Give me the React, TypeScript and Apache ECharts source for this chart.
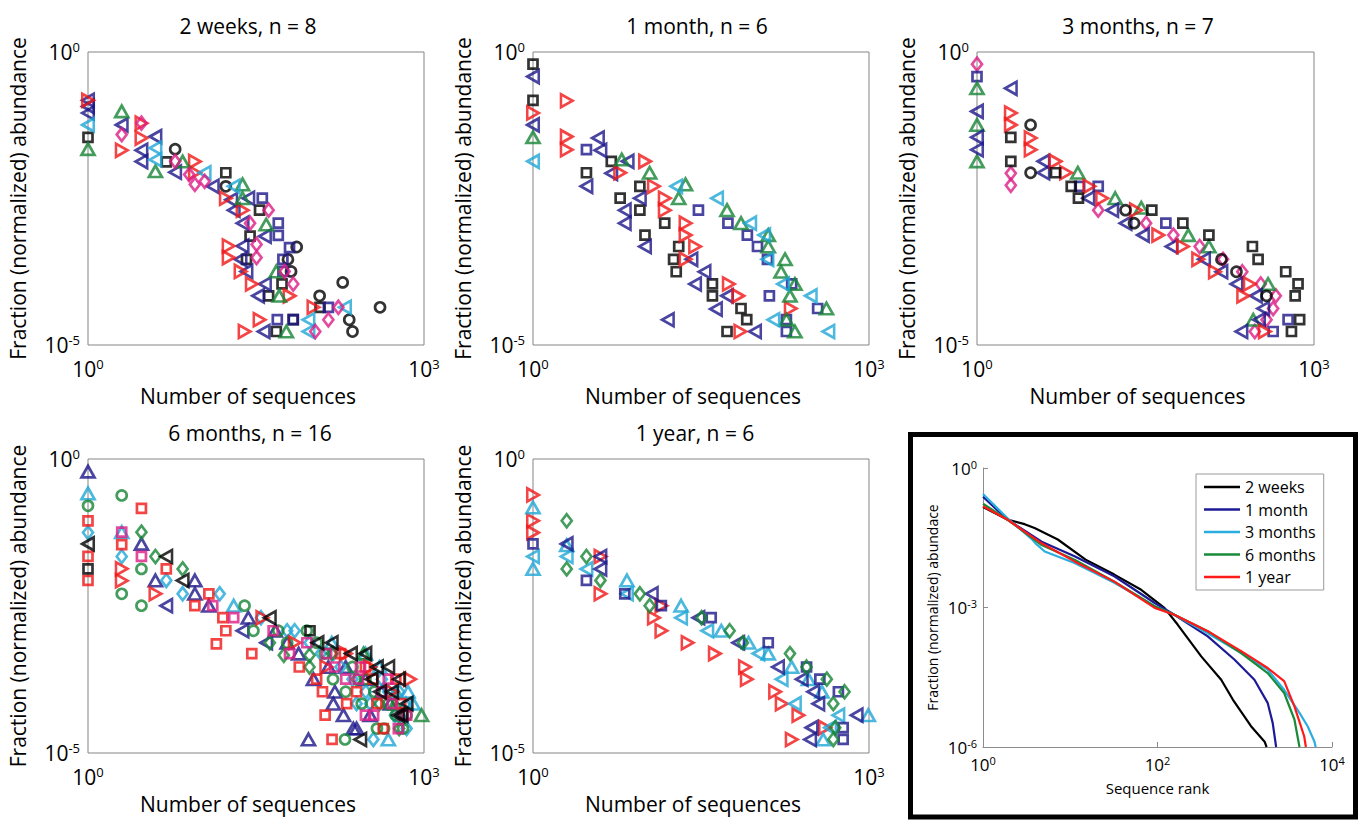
import React, { useEffect, useRef } from 'react';
import * as echarts from 'echarts';

const FONT = "'Open Sans', 'Noto Sans', 'DejaVu Sans', sans-serif";

const COLORS: Record<string, string> = {
  k: '#000000', b: '#1c1688', c: '#1fa6d6', g: '#158434', r: '#f01616', m: '#dc1d86',
};

const PANEL_TITLES = ['2 weeks, n = 8', '1 month, n = 6', '3 months, n = 7', '6 months, n = 16', '1 year, n = 6'];

type Group = { c: string; m: string; pts: number[][] };

const weeks2: Group[] = [
  { c: 'k', m: 's', pts: [[1,0.035],[5,0.0133],[17,0.0087],[34,0.002],[28,7.2e-4],[26,2.9e-4],[54,1.1e-4],[41,6.9e-5],[118,4.4e-5],[68,2.7e-5],[48,1.7e-5]] },
  { c: 'k', m: 'o', pts: [[6,0.022],[17,0.0051],[73,4.7e-4],[61,2.9e-4],[65,1.8e-4],[117,6.9e-5],[188,1.17e-4],[405,4.4e-5],[215,2.7e-5],[230,1.7e-5]] },
  { c: 'b', m: '<', pts: [[1,0.15],[1,0.118],[1,0.091],[2,0.057],[3,0.021],[3,0.0135],[4,0.036],[6,0.0089],[13,0.0051],[19,0.003],[20,0.002],[24,0.0012],[27,0.0032],[38,7.2e-4],[24,4.9e-4],[23,2.9e-4],[26,1.8e-4],[38,1.1e-4],[33,6.9e-5],[37,1.7e-5]] },
  { c: 'b', m: 's', pts: [[36,0.0032],[50,0.0012],[50,7.4e-4],[63,4.6e-4],[55,2.9e-4],[55,1.8e-4],[140,4.4e-5],[49,2.7e-5],[68,2.7e-5]] },
  { c: 'r', m: '>', pts: [[1,0.15],[2,0.021],[3,0.034],[3,0.061],[9,0.0135],[9,0.0087],[17,0.0032],[24,0.002],[18,4.9e-4],[18,3.1e-4],[23,1.8e-4],[29,1.1e-4],[63,6.9e-5],[103,4.4e-5],[34,2.7e-5],[25,1.7e-5]] },
  { c: 'g', m: '^', pts: [[1,0.022],[2,0.097],[4,0.0092],[7,0.0135],[24,0.0055],[24,0.0032],[39,0.00114],[48,1.8e-4],[51,6.9e-5],[59,1.7e-5]] },
  { c: 'c', m: '<', pts: [[1,0.057],[4,0.023],[4,0.0145],[11,0.0087],[20,0.0051],[197,4.4e-5],[93,2.7e-5],[93,1.7e-5]] },
  { c: 'm', m: 'd', pts: [[2,0.039],[3,0.061],[6,0.0136],[8,0.0081],[9,0.0055],[11,0.0062],[28,0.0012],[41,0.002],[32,5.2e-4],[32,3.1e-4],[57,1.8e-4],[68,1.1e-4],[172,4.4e-5],[140,2.7e-5],[107,1.7e-5]] },
];

const month1: Group[] = [
  { c: 'k', m: 's', pts: [[1,0.62],[1,0.15],[5,0.0136],[3,0.0087],[6,0.0032],[9,0.0051],[9,0.002],[10,7.5e-4],[15,0.0012],[20,4.8e-4],[18,2.9e-4],[19,1.78e-4],[40,1.1e-4],[40,6.9e-5],[72,4.2e-5],[81,2.7e-5],[54,1.7e-5]] },
  { c: 'b', m: '<', pts: [[1,0.38],[1,0.057],[3,0.0051],[3.8,0.034],[4,0.021],[5,0.0085],[7,0.0136],[6.6,0.002],[6.6,0.0012],[9,0.0032],[10,4.8e-4],[26,2.9e-4],[34,1.78e-4],[28,1.1e-4],[54,6.9e-5],[43,4.1e-5],[16,2.7e-5],[96,1.7e-5]] },
  { c: 'b', m: 's', pts: [[3,0.0215],[30,0.002],[55,0.0012],[82,7.5e-4],[101,4.8e-4],[124,2.9e-4],[204,1.1e-4],[129,6.9e-5],[348,4.2e-5],[183,2.7e-5],[183,1.7e-5]] },
  { c: 'r', m: '>', pts: [[1,0.091],[2,0.147],[2,0.036],[2,0.0215],[6,0.0087],[10,0.0136],[12,0.0051],[15,0.0032],[15,0.002],[23,0.0012],[23,7.5e-4],[28,4.8e-4],[23,2.9e-4],[56,1.1e-4],[68,6.9e-5],[71,1.7e-5],[200,4.2e-5]] },
  { c: 'g', m: '^', pts: [[1,0.035],[6.2,0.0146],[11,0.0087],[20,0.0032],[23,0.0055],[54,0.002],[72,0.0012],[126,7.5e-4],[126,4.8e-4],[178,2.9e-4],[164,1.78e-4],[218,1.1e-4],[197,6.9e-5],[417,4.2e-5],[183,2.7e-5],[218,1.7e-5]] },
  { c: 'c', m: '<', pts: [[1,0.0136],[19,0.0051],[44,0.0032],[87,0.0012],[116,7.5e-4],[124,2.9e-4],[171,1.1e-4],[302,6.9e-5],[140,2.7e-5],[434,1.7e-5]] },
];

const months3: Group[] = [
  { c: 'm', m: 'd', pts: [[1,0.62],[2,0.0085],[2,0.0053],[12,0.002],[32,0.0012],[56,7.5e-4],[96,4.8e-4],[155,2.9e-4],[230,1.78e-4],[336,1.1e-4],[457,6.9e-5],[433,4.2e-5],[378,2.7e-5],[297,1.7e-5]] },
  { c: 'b', m: 's', pts: [[1,0.38],[8.2,0.0051],[12,0.0051],[48,0.0012],[588,2.7e-5],[433,1.7e-5]] },
  { c: 'g', m: '^', pts: [[1,0.24],[1,0.057],[1,0.0136],[7.9,0.0087],[17,0.0032],[29,0.0022],[76,7.5e-4],[116,4.8e-4],[390,1.1e-4],[288,2.7e-5]] },
  { c: 'b', m: '<', pts: [[1,0.097],[1,0.035],[1,0.0215],[2,0.24],[3.9,0.0136],[3.9,0.0087],[9.8,0.0032],[16,0.002],[21,0.0012],[30,7.5e-4],[54,4.8e-4],[105,2.9e-4],[150,1.78e-4],[204,1.1e-4],[304,6.9e-5],[353,4.2e-5],[324,2.7e-5],[226,1.7e-5]] },
  { c: 'r', m: '>', pts: [[2,0.091],[2,0.057],[3,0.034],[3,0.0215],[5,0.0136],[6.2,0.0087],[10,0.0051],[13,0.0032],[26,0.002],[41,7.5e-4],[68,4.8e-4],[93,2.9e-4],[131,1.78e-4],[268,1.1e-4],[234,6.9e-5],[365,1.7e-5]] },
  { c: 'k', m: 's', pts: [[2,0.035],[2,0.0136],[5,0.0087],[6.9,0.0051],[8,0.0032],[36,0.002],[68,0.0012],[116,7.5e-4],[283,4.8e-4],[318,2.9e-4],[560,1.78e-4],[721,1.1e-4],[680,6.9e-5],[745,2.7e-5],[630,1.7e-5]] },
  { c: 'k', m: 'o', pts: [[3,0.057],[3,0.0087],[21,0.002],[25,0.0012],[150,2.9e-4],[204,1.78e-4],[378,6.9e-5]] },
];

const months6: Group[] = [
  { c: 'b', m: '^', pts: [[1,0.61],[3,0.036],[4,0.0086],[9,0.0086],[9,0.0051],[12,0.0032],[27,0.002],[47,0.0012],[76,4.9e-4],[103,1.8e-4],[160,1.1e-4],[155,6.9e-5],[191,4.4e-5],[234,2.6e-5],[93,1.7e-5],[330,4.4e-5],[250,2.6e-5],[200,2.9e-4],[420,1.1e-4],[300,1.8e-4],[60,7.5e-4],[140,2.9e-4],[500,6.9e-5]] },
  { c: 'b', m: '<', pts: [[5,0.0032],[24,0.0012],[39,7.5e-4]] },
  { c: 'c', m: '^', pts: [[1,0.26],[2,0.057],[20,0.0032],[690,6.9e-5],[480,1.7e-5],[560,1.1e-4],[620,4.4e-5],[800,6.9e-5],[300,4.9e-4],[150,7.5e-4],[400,2.9e-4],[720,1.1e-4]] },
  { c: 'c', m: 'd', pts: [[1,0.056],[2,0.022],[5,0.0086],[7,0.0051],[60,0.0012],[95,7.5e-4],[155,4.9e-4],[230,1.8e-4],[302,1.1e-4],[330,6.9e-5],[353,1.7e-5],[420,1.8e-4],[250,6.9e-5],[550,4.4e-5],[600,1.1e-4],[180,2.9e-4],[15,0.0051],[35,0.002],[70,0.0012],[120,4.9e-4],[480,1.1e-4],[700,2.6e-5]] },
  { c: 'g', m: 'o', pts: [[1,0.16],[2,0.24],[2,0.0051],[3,0.0135],[3,0.0032],[30,0.0012],[60,7.5e-4],[90,0.0012],[154,1.8e-4],[200,1.1e-4],[278,6.9e-5],[440,2.6e-5],[197,1.7e-5],[130,4.9e-4],[300,1.8e-4],[360,1.1e-4],[480,6.9e-5],[560,4.4e-5],[380,2.6e-5],[650,2.6e-5],[230,2.9e-4],[25,0.0032],[50,0.0012],[110,7.5e-4],[700,4.4e-5]] },
  { c: 'g', m: 'd', pts: [[3,0.057],[4,0.022],[7,0.0135],[42,7.5e-4],[56,4.6e-4],[95,4.6e-4],[95,2.9e-4],[150,4.9e-4],[250,1.8e-4],[400,6.9e-5],[600,2.6e-5]] },
  { c: 'g', m: '^', pts: [[950,4.4e-5],[288,4.9e-4],[550,6.9e-5]] },
  { c: 'r', m: 's', pts: [[1,0.089],[1,0.022],[1,0.0086],[2,0.035],[3,0.145],[5,0.0135],[9,0.0032],[12,0.0051],[17,0.0012],[16,0.002],[14,7.2e-4],[29,4.9e-4],[77,2.9e-4],[110,1.8e-4],[124,1.1e-4],[131,4.4e-5],[204,6.9e-5],[433,2.6e-5],[151,1.7e-5],[250,1.1e-4],[380,6.9e-5],[300,2.9e-4],[560,1.8e-4],[180,4.9e-4],[350,1.8e-4],[620,6.9e-5]] },
  { c: 'r', m: '>', pts: [[2,0.0136],[2,0.0085],[4,0.0051],[36,0.002],[134,2.9e-4],[330,2.9e-4],[515,1.1e-4],[70,7.5e-4],[200,4.9e-4],[750,1.8e-4]] },
  { c: 'm', m: 's', pts: [[2,0.057],[3,0.022],[63,4.9e-4],[135,4.9e-4],[271,2.9e-4],[355,4.4e-5],[590,2.6e-5],[200,1.8e-4],[420,1.1e-4],[300,4.4e-5],[520,6.9e-5],[480,1.8e-4],[700,4.4e-5],[13,0.0032],[20,0.002],[45,0.0012],[90,7.5e-4],[160,2.9e-4],[260,1.8e-4],[650,4.4e-5]] },
  { c: 'k', m: '<', pts: [[1,0.036],[5,0.022],[7,0.0086],[42,0.002],[112,7.5e-4],[223,4.9e-4],[340,1.8e-4],[405,1.1e-4],[590,4.4e-5],[630,4.4e-5],[270,1.7e-5],[480,2.9e-4],[520,1.1e-4],[700,6.9e-5],[380,2.9e-4],[150,7.5e-4],[300,4.9e-4],[600,1.8e-4]] },
  { c: 'k', m: 's', pts: [[1,0.0135],[96,0.0012]] },
];

const year1: Group[] = [
  { c: 'r', m: '>', pts: [[1,0.245],[1,0.089],[1,0.056],[4,0.022],[4,0.0051],[14,0.0032],[12,0.002],[14,0.0012],[24,7.5e-4],[42,4.9e-4],[78,2.9e-4],[81,1.8e-4],[145,1.1e-4],[166,6.9e-5],[234,4.4e-5],[204,1.7e-5],[405,2.7e-5]] },
  { c: 'c', m: '^', pts: [[1,0.15],[1,0.0135],[2,0.034],[6.9,0.0086],[21,0.0032],[48,0.0012],[84,7.5e-4],[126,4.9e-4],[204,2.9e-4],[288,1.8e-4],[380,1.1e-4],[985,4.4e-5],[390,1.7e-5]] },
  { c: 'c', m: '<', pts: [[1,0.022],[2,0.022],[3,0.0135],[6.9,0.0051],[21,0.002],[36,0.0012],[103,4.9e-4],[166,1.8e-4],[218,6.9e-5],[533,4.4e-5],[450,2.7e-5]] },
  { c: 'b', m: 's', pts: [[1,0.036],[3,0.0086],[6.6,0.0051],[14,0.0032],[39,0.002],[126,7.5e-4],[277,2.9e-4],[364,1.8e-4],[533,1.1e-4],[588,2.7e-5],[588,1.7e-5]] },
  { c: 'b', m: '<', pts: [[2,0.036],[4,0.022],[4,0.0135],[11.5,0.0051],[30,0.002],[68,7.5e-4],[154,2.9e-4],[251,1.8e-4],[318,1.1e-4],[353,6.9e-5],[776,4.4e-5],[307,2.7e-5],[298,1.7e-5]] },
  { c: 'g', m: 'd', pts: [[2,0.089],[2,0.0135],[3,0.022],[4,0.0086],[9,0.0051],[11,0.0032],[32,0.002],[57,0.0012],[75,7.5e-4],[197,4.9e-4],[277,2.9e-4],[420,1.8e-4],[605,1.1e-4],[480,6.9e-5],[500,2.7e-5],[480,1.7e-5]] },
];

const PANELS = [weeks2, month1, months3, months6, year1];

// Inset: rank-abundance curves
const LINE_NAMES = ['2 weeks', '1 month', '3 months', '6 months', '1 year'];
const LINE_COLORS = ['#000000', '#1d1a96', '#2aaee0', '#198a38', '#ff1a1a'];
const rank2w = [[1,0.145],[1.9,0.078],[3,0.062],[3.9,0.051],[7.2,0.029],[15,0.0107],[32,0.0051],[65,0.0024],[120,9.8e-4],[170,4.3e-4],[317,8.9e-5],[537,2.8e-5],[730,1.05e-5],[1180,2.8e-6],[1690,1.3e-6],[1780,1e-6]];
const rank1m = [[1,0.24],[1.9,0.078],[4.7,0.026],[11.2,0.0126],[32,0.0047],[93,0.00125],[156,7e-4],[377,2.4e-4],[760,7.6e-5],[1290,2.8e-5],[1830,8.9e-6],[2090,3.3e-6],[2290,1e-6]];
const rank3m = [[1,0.276],[1.9,0.084],[3.6,0.03],[4,0.024],[5.1,0.016],[11.2,0.0091],[32,0.0034],[93,0.00107],[156,7e-4],[377,2.8e-4],[910,1.05e-4],[1830,4.6e-5],[2830,1.7e-5],[4240,5.4e-6],[5260,2.8e-6],[6300,1.3e-6],[6500,1e-6]];
const rank6m = [[1,0.17],[1.9,0.078],[4.7,0.022],[11.2,0.0107],[32,0.0036],[93,0.00107],[156,7e-4],[377,3.1e-4],[910,1.05e-4],[1830,3.9e-5],[2830,1.45e-5],[3710,3.9e-6],[4240,1e-6]];
const rank1y = [[1,0.15],[1.9,0.078],[4.7,0.024],[11.2,0.0098],[32,0.0036],[93,9.8e-4],[156,7e-4],[377,3.1e-4],[910,1.15e-4],[1830,5e-5],[2830,2.6e-5],[3710,7.5e-6],[4800,1.7e-6],[5020,1e-6]];
const RANK_DATA = [rank2w, rank1m, rank3m, rank6m, rank1y];

const MARKERS: Record<string, { symbol: string; size: number | number[]; rot: number }> = {
  '^': { symbol: 'triangle', size: [13, 11.5], rot: 0 },
  '<': { symbol: 'triangle', size: [13, 11.5], rot: 90 },
  '>': { symbol: 'triangle', size: [13, 11.5], rot: -90 },
  s: { symbol: 'rect', size: 9, rot: 0 },
  o: { symbol: 'circle', size: 10, rot: 0 },
  d: { symbol: 'diamond', size: [10, 13], rot: 0 },
};

const GRIDS = [
  { left: 88, top: 52, width: 336, height: 293 },
  { left: 533, top: 52, width: 336, height: 293 },
  { left: 977, top: 52, width: 337, height: 293 },
  { left: 88, top: 459, width: 336, height: 294 },
  { left: 533, top: 459, width: 336, height: 294 },
];
const INSET_GRID = { left: 983, top: 468, width: 349, height: 279 };
const TITLE_POS = [[248, 26], [697, 26], [1138, 26], [250, 433], [695, 433]];

const exp10 = (v: number) => Math.round(Math.log10(v));

function richBig(size: number, sup: number) {
  return {
    b: { fontSize: size, fontFamily: FONT, color: '#000', lineHeight: size + 2 },
    s: { fontSize: sup, fontFamily: FONT, color: '#000', verticalAlign: 'top', lineHeight: sup },
  };
}

function buildOption() {
  const xAxis: any[] = [];
  const yAxis: any[] = [];
  const grid: any[] = [];
  const series: any[] = [];

  GRIDS.forEach((g, i) => {
    grid.push({ ...g, show: true, borderColor: '#858585', borderWidth: 1, backgroundColor: 'transparent' });
    xAxis.push({
      type: 'log', logBase: 10, gridIndex: i, min: 1, max: 1000,
      axisLine: { show: false }, axisTick: { show: false }, splitLine: { show: false },
      axisLabel: {
        margin: 12, showMinLabel: true, showMaxLabel: true,
        formatter: (v: number) => { const e = exp10(v); return e === 0 || e === 3 ? `{b|10}{s|${e}}` : ''; },
        rich: richBig(21, 13),
      },
      name: 'Number of sequences', nameLocation: 'middle', nameGap: 40,
      nameTextStyle: { fontSize: 21, fontFamily: FONT, color: '#000', padding: [0, 16, 0, 0] },
    });
    yAxis.push({
      type: 'log', logBase: 10, gridIndex: i, min: 1e-5, max: 1,
      axisLine: { show: false }, axisTick: { show: false }, splitLine: { show: false },
      axisLabel: {
        margin: 8, showMinLabel: true, showMaxLabel: true,
        formatter: (v: number) => { const e = exp10(v); return e === 0 || e === -5 ? `{b|10}{s|${e}}` : ''; },
        rich: richBig(21, 13),
      },
      name: 'Fraction (normalized) abundance', nameLocation: 'middle', nameGap: 60,
      nameTextStyle: { fontSize: 21, fontFamily: FONT, color: '#000' },
    });
    PANELS[i].forEach((grp) => {
      const mk = MARKERS[grp.m];
      series.push({
        type: 'scatter', xAxisIndex: i, yAxisIndex: i, data: grp.pts, clip: false, silent: true,
        symbol: mk.symbol, symbolSize: mk.size, symbolRotate: mk.rot,
        itemStyle: { color: 'rgba(0,0,0,0)', borderColor: COLORS[grp.c], borderWidth: 2.7 },
      });
    });
  });

  // inset
  grid.push({ ...INSET_GRID, show: false });
  xAxis.push({
    type: 'log', logBase: 10, gridIndex: 5, min: 1, max: 10000, interval: 2,
    axisLine: { show: true, lineStyle: { color: '#8c8c8c', width: 1 } },
    axisTick: { show: true, inside: true, length: 5, lineStyle: { color: '#8c8c8c' } },
    splitLine: { show: false },
    axisLabel: {
      margin: 8,
      formatter: (v: number) => { const e = exp10(v); return e % 2 === 0 ? `{b|10}{s|${e}}` : ''; },
      rich: richBig(17, 11),
    },
    name: 'Sequence rank', nameLocation: 'middle', nameGap: 33,
    nameTextStyle: { fontSize: 15, fontFamily: FONT, color: '#000' },
  });
  yAxis.push({
    type: 'log', logBase: 10, gridIndex: 5, min: 1e-6, max: 1, interval: 3,
    axisLine: { show: true, lineStyle: { color: '#8c8c8c', width: 1 } },
    axisTick: { show: true, inside: true, length: 5, lineStyle: { color: '#8c8c8c' } },
    splitLine: { show: false },
    axisLabel: {
      margin: 6,
      formatter: (v: number) => { const e = exp10(v); return e % 3 === 0 ? `{b|10}{s|${e}}` : ''; },
      rich: richBig(17, 11),
    },
    name: 'Fraction (normalized) abundace', nameLocation: 'middle', nameGap: 44,
    nameTextStyle: { fontSize: 14, fontFamily: FONT, color: '#000' },
  });
  RANK_DATA.forEach((d, i) => {
    series.push({
      type: 'line', name: LINE_NAMES[i], xAxisIndex: 5, yAxisIndex: 5, data: d,
      symbol: 'none', silent: true,
      lineStyle: { color: LINE_COLORS[i], width: 2.2 }, itemStyle: { color: LINE_COLORS[i] },
    });
  });

  const graphic: any[] = TITLE_POS.map((p, i) => ({
    type: 'text', x: p[0], y: p[1], silent: true,
    style: { text: PANEL_TITLES[i], font: `21px ${FONT}`, fill: '#000', align: 'center', verticalAlign: 'middle' },
  }));
  graphic.push({
    type: 'rect', silent: true,
    shape: { x: 910.5, y: 434.5, width: 445, height: 382.5 },
    style: { fill: 'none', stroke: '#000', lineWidth: 5 },
  });

  return {
    animation: false,
    backgroundColor: '#ffffff',
    grid, xAxis, yAxis, series, graphic,
    legend: {
      data: LINE_NAMES, orient: 'vertical', left: 1196, top: 474,
      borderColor: '#9a9a9a', borderWidth: 1, backgroundColor: '#fff',
      padding: [5, 8, 5, 8], icon: 'rect', itemWidth: 36, itemHeight: 2.5, itemGap: 6.5,
      textStyle: { fontSize: 16, fontFamily: FONT, color: '#000' },
      selectedMode: false,
    },
  };
}

export default function App() {
  const ref = useRef<HTMLDivElement>(null);
  useEffect(() => {
    document.body.style.margin = '0';
    const chart = echarts.init(ref.current as HTMLDivElement, null, { renderer: 'svg' });
    chart.setOption(buildOption() as any);
    return () => chart.dispose();
  }, []);
  return <div ref={ref} style={{ width: 1362, height: 821 }} />;
}
